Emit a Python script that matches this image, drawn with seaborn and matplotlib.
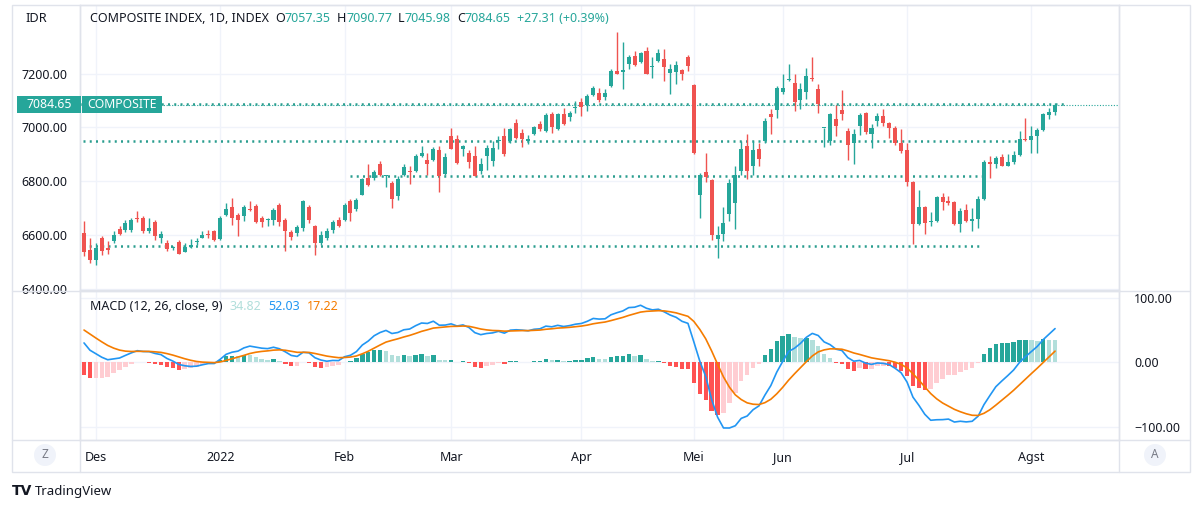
import numpy as np
import pandas as pd
import matplotlib
matplotlib.use("Agg")
import matplotlib.pyplot as plt
import seaborn as sns
from matplotlib.patches import Rectangle, Ellipse
from matplotlib.lines import Line2D

sns.set_theme(style="white")
plt.rcParams['font.family'] = ['Noto Sans', 'DejaVu Sans']

# ---------------- data ----------------
holidays = ["2021-12-24", "2021-12-31", "2022-02-01", "2022-02-28", "2022-03-03",
            "2022-04-15", "2022-04-29", "2022-05-02", "2022-05-03", "2022-05-04",
            "2022-05-05", "2022-05-06", "2022-05-16", "2022-05-26", "2022-06-01"]
first_day = "2021-11-29"
last_day = "2022-08-05"

opens = [6607, 6545, 6507, 6588, 6551, 6576, 6622, 6620, 6617, 6663,
         6663, 6613, 6648, 6588, 6570, 6553, 6573, 6537, 6555, 6572,
         6589, 6604, 6613, 6584, 6675, 6704, 6675, 6669, 6698, 6706,
         6663, 6656, 6657, 6712, 6654, 6611, 6607, 6626, 6703, 6632,
         6570, 6588, 6619, 6657, 6657, 6725, 6696, 6750, 6812, 6812,
         6862, 6818, 6793, 6746, 6822, 6837, 6837, 6895, 6880, 6877,
         6914, 6828, 6967, 6957, 6921, 6905, 6895, 6837, 6895, 6874,
         6950, 6967, 6949, 7017, 6980, 6949, 6974, 7011, 6986, 7048,
         6995, 7051, 7040, 7072, 7094, 7082, 7119, 7127, 7113, 7154,
         7210, 7204, 7237, 7266, 7243, 7284, 7226, 7247, 7253, 7201,
         7206, 7212, 7260, 7156, 6747, 6833, 6803, 6586, 6604, 6678,
         6719, 6839, 6930, 6858, 6918, 6949, 7051, 7064, 7130, 7176,
         7166, 7102, 7131, 7185, 7144, 6996, 6949, 7030, 7063, 6988,
         6943, 7005, 7052, 6977, 7023, 7044, 7015, 6996, 6943, 6914,
         6796, 6641, 6704, 6647, 6653, 6740, 6725, 6721, 6642, 6691,
         6650, 6659, 6735, 6872, 6862, 6889, 6858, 6870, 6897, 6958,
         6952, 6967, 6990, 7045, 7057.35]
highs = [6650, 6588, 6570, 6597, 6578, 6613, 6632, 6657, 6664, 6688,
         6669, 6663, 6657, 6613, 6580, 6557, 6582, 6570, 6585, 6588,
         6613, 6619, 6619, 6669, 6719, 6737, 6681, 6713, 6725, 6716,
         6672, 6663, 6700, 6719, 6663, 6619, 6638, 6731, 6713, 6638,
         6613, 6626, 6654, 6665, 6719, 6734, 6737, 6812, 6862, 6843,
         6874, 6824, 6800, 6818, 6862, 6855, 6899, 6930, 6905, 6927,
         6930, 6905, 6998, 6970, 6936, 6915, 6930, 6887, 6936, 6949,
         6967, 6996, 6998, 7032, 6992, 6970, 7005, 7023, 7055, 7057,
         7055, 7073, 7061, 7098, 7110, 7123, 7154, 7148, 7141, 7216,
         7353, 7318, 7268, 7284, 7281, 7297, 7260, 7293, 7291, 7237,
         7247, 7218, 7268, 7160, 6831, 6903, 6806, 6634, 6703, 6806,
         6855, 6949, 6974, 6949, 6942, 7036, 7069, 7154, 7197, 7235,
         7197, 7166, 7222, 7260, 7160, 6999, 7054, 7082, 7139, 6998,
         6995, 7055, 7057, 7011, 7055, 7069, 7020, 7005, 6992, 6943,
         6800, 6768, 6709, 6684, 6744, 6756, 6746, 6725, 6700, 6716,
         6700, 6744, 6880, 6893, 6893, 6899, 6899, 6912, 6986, 7036,
         7005, 6996, 7055, 7073, 7090.77]
lows = [6520, 6495, 6489, 6526, 6530, 6570, 6601, 6610, 6610, 6647,
        6607, 6607, 6582, 6570, 6539, 6545, 6530, 6535, 6551, 6563,
        6588, 6588, 6579, 6582, 6669, 6638, 6595, 6650, 6688, 6644,
        6629, 6632, 6638, 6632, 6539, 6582, 6594, 6613, 6644, 6526,
        6563, 6582, 6607, 6629, 6650, 6650, 6688, 6747, 6781, 6803,
        6818, 6778, 6700, 6729, 6818, 6791, 6835, 6890, 6824, 6874,
        6760, 6824, 6918, 6862, 6895, 6849, 6818, 6828, 6843, 6855,
        6918, 6895, 6943, 6955, 6928, 6937, 6970, 6986, 6982, 6980,
        6990, 7007, 7023, 7054, 7042, 7061, 7117, 7094, 7102, 7151,
        7197, 7144, 7216, 7228, 7241, 7197, 7185, 7243, 7172, 7125,
        7160, 7175, 7210, 6899, 6663, 6796, 6580, 6514, 6576, 6650,
        6622, 6824, 6806, 6824, 6858, 6940, 6977, 7036, 7123, 7172,
        7061, 7067, 7104, 7172, 7052, 6928, 6936, 6967, 7027, 6880,
        6862, 6970, 6974, 6924, 7005, 7005, 6961, 6936, 6905, 6781,
        6566, 6638, 6604, 6634, 6647, 6694, 6710, 6638, 6609, 6647,
        6613, 6626, 6731, 6812, 6849, 6855, 6855, 6865, 6893, 6949,
        6903, 6903, 6986, 7030, 7045.98]
closes = [6535, 6507, 6551, 6539, 6545, 6601, 6604, 6644, 6654, 6660,
          6613, 6626, 6595, 6602, 6547, 6555, 6530, 6555, 6561, 6576,
          6598, 6600, 6582, 6663, 6696, 6663, 6654, 6703, 6692, 6648,
          6647, 6657, 6694, 6647, 6613, 6592, 6629, 6727, 6654, 6570,
          6601, 6613, 6647, 6632, 6710, 6681, 6731, 6806, 6787, 6834,
          6822, 6820, 6735, 6808, 6852, 6833, 6893, 6903, 6862, 6921,
          6818, 6890, 6920, 6868, 6930, 6872, 6818, 6864, 6924, 6924,
          6952, 6899, 6992, 6961, 6955, 6955, 7001, 6995, 7047, 7001,
          7048, 7011, 7054, 7076, 7077, 7117, 7148, 7102, 7127, 7210,
          7200, 7214, 7263, 7232, 7276, 7200, 7227, 7276, 7226, 7216,
          7231, 7197, 7228, 6905, 6822, 6816, 6598, 6598, 6644, 6793,
          6824, 6918, 6839, 6914, 6883, 7023, 7038, 7148, 7148, 7181,
          7094, 7141, 7191, 7179, 7085, 6999, 7048, 7005, 7051, 6936,
          6976, 7045, 6982, 6998, 7044, 7015, 6996, 6943, 6912, 6796,
          6641, 6704, 6644, 6653, 6741, 6723, 6719, 6641, 6688, 6650,
          6659, 6735, 6872, 6862, 6887, 6858, 6872, 6897, 6957, 6952,
          6967, 6990, 7048, 7057.34, 7084.65]

# MACD state at the first candle
macd_start = 30.0
signal_start = 50.0
ema26_start = 6590.0
# indicator legend values shown in the pane header
macd_legend = [34.82, 52.03, 17.22]

# user-drawn horizontal lines (price level, from bar index, to bar index)
line_levels = [7086.0, 6951.0, 6818.0, 6557.0]
line_from = [-0.7, -0.1, 44.9, -0.1]
line_to = [165.7, 157.8, 152.2, 151.9]

month_labels = ["Des", "2022", "Feb", "Mar", "Apr", "Mei", "Jun", "Jul", "Agst"]
price_ticks = [6400, 6600, 6800, 7000, 7200]
macd_ticks = [-100, 0, 100]

# ---------------- derived ----------------
dates = pd.bdate_range(first_day, last_day)
dates = dates[~dates.isin(pd.to_datetime(holidays))]
df = pd.DataFrame({"date": dates, "open": opens, "high": highs, "low": lows, "close": closes})
df["i"] = np.arange(len(df))

a12, a26, a9 = 2 / 13, 2 / 27, 2 / 10
e12, e26 = ema26_start + macd_start, ema26_start
sig = signal_start
macd_v, sig_v = [], []
for k, c in enumerate(df["close"]):
    if k > 0:
        e12 = e12 + a12 * (c - e12)
        e26 = e26 + a26 * (c - e26)
        sig = sig + a9 * ((e12 - e26) - sig)
    macd_v.append(e12 - e26)
    sig_v.append(sig)
df["macd"] = macd_v
df["signal"] = sig_v
df["hist"] = df["macd"] - df["signal"]

month_start = df.groupby(df["date"].dt.to_period("M"))["i"].min().values[1:]

# ---------------- figure ----------------
W, H = 1200, 508
fig = plt.figure(figsize=(W / 100, H / 100), dpi=100)
fig.patch.set_facecolor("white")

def fr(x0, y0, x1, y1):
    return [x0 / W, 1 - y1 / H, (x1 - x0) / W, (y1 - y0) / H]

ax = fig.add_axes(fr(80, 5, 1119, 290))
axm = fig.add_axes(fr(80, 291, 1119, 440), sharex=ax)

UP, DN = "#26a69a", "#ef5350"
TXT = "#131722"
GRID = "#f0f3fa"
SEP = "#e0e3eb"

up = df["close"] >= df["open"]
cols = np.where(up, UP, DN)

for a in (ax, axm):
    a.set_facecolor("white")
    for s in a.spines.values():
        s.set_color(SEP)
        s.set_linewidth(1)
    for m in month_start:
        a.axvline(m, color=GRID, lw=1, zorder=0)

for p in price_ticks:
    ax.axhline(p, color=GRID, lw=1, zorder=0)
for p in macd_ticks:
    axm.axhline(p, color=GRID, lw=1, zorder=0)

# user lines
for lvl, x0, x1 in zip(line_levels, line_from, line_to):
    ax.plot([x0, x1], [lvl, lvl], color="#2a9d8f", lw=1.8,
            linestyle=(0, (0.8, 1.7)), zorder=1, solid_capstyle="butt")
ax.axhline(df["close"].iloc[-1], color="#26a69a", lw=0.8, linestyle=(0, (1, 1.5)), zorder=1)

# candles
ax.vlines(df["i"], df["low"], df["high"], colors=cols, lw=1, zorder=2)
body = np.maximum((df["close"] - df["open"]).abs(), 3.5)
ax.bar(df["i"], body, bottom=np.minimum(df["open"], df["close"]), width=0.68,
       color=cols, linewidth=0, zorder=3)

ax.set_xlim(-0.68, 174.8)
ax.set_ylim(6395, 7455)
ax.set_yticks(price_ticks)
ax.set_yticklabels([f"{p:.2f}" for p in price_ticks])
ax.tick_params(axis="y", length=0, pad=9, labelsize=9, colors=TXT)
ax.tick_params(axis="x", length=0, labelbottom=False)

# MACD pane
h = df["hist"].values
prev = np.r_[h[0], h[:-1]]
hcol = np.where(h >= 0, np.where(h > prev, "#26a69a", "#b2dfdb"),
                np.where(h > prev, "#ffcdd2", "#ff5252"))
axm.bar(df["i"], h, width=0.75, color=hcol, linewidth=0, zorder=2)
sns.lineplot(data=df, x="i", y="macd", ax=axm, color="#2196f3", lw=1.2, zorder=3)
sns.lineplot(data=df, x="i", y="signal", ax=axm, color="#f57c00", lw=1.2, zorder=3)
axm.set_ylim(-120.4, 110.5)
axm.set_ylabel("")
axm.set_xlabel("")
axm.yaxis.tick_right()
axm.set_yticks(macd_ticks)
axm.set_yticklabels(["\u2212100.00", "0.00", "100.00"])
axm.tick_params(axis="y", length=0, pad=11, labelsize=9, colors=TXT, left=False, labelleft=False)
axm.set_xticks(month_start)
axm.set_xticklabels(month_labels)
axm.tick_params(axis="x", length=0, pad=8, labelsize=9, colors=TXT)
ax.set_xlim(-0.68, 174.8)

# frame and separators
fig.add_artist(Rectangle((12 / W, 1 - 472 / H), (1190 - 12) / W, (472 - 5) / H,
                         transform=fig.transFigure, fill=False, edgecolor=SEP, lw=1))
for xx in (80, 1119):
    fig.add_artist(Line2D([xx / W, xx / W], [1 - 472 / H, 1 - 5 / H], color=SEP, lw=1))
fig.add_artist(Line2D([12 / W, 1190 / W], [1 - 290.5 / H] * 2, color=SEP, lw=1))
fig.add_artist(Line2D([12 / W, 1190 / W], [1 - 440 / H] * 2, color=SEP, lw=1))
for cx, t in ((45, "Z"), (1155, "A")):
    fig.add_artist(Ellipse((cx / W, 1 - 455 / H), 22 / W, 22 / H, transform=fig.transFigure,
                           facecolor="#f0f3fa", edgecolor="none"))
    fig.text(cx / W, 1 - 455 / H, t, ha="center", va="center", fontsize=8.5, color="#787b86")

# price label boxes
def box(x0, x1, y0, y1, txt):
    fig.add_artist(Rectangle((x0 / W, 1 - y1 / H), (x1 - x0) / W, (y1 - y0) / H,
                             transform=fig.transFigure, facecolor="#26a69a", edgecolor="none",
                             zorder=5))
    fig.text((x0 + x1) / 2 / W, 1 - (y0 + y1) / 2 / H, txt, ha="center", va="center",
             color="white", fontsize=8.8, fontweight="bold", zorder=6)

box(17, 81, 96, 113, f"{closes[-1]:.2f}")
box(82, 162, 96, 113, "COMPOSITE")

# header texts
renderer = fig.canvas.get_renderer()

def seq(x0, y, pieces, size):
    x = x0
    for txt, col, gap in pieces:
        t = fig.text(x / W, 1 - y / H, txt, color=col, fontsize=size, ha="left", va="center")
        x += t.get_window_extent(renderer=renderer).width + gap

fig.text(25 / W, 1 - 18 / H, "IDR", fontsize=9.2, color=TXT, ha="left", va="center")
o, hh, l, c = opens[-1], highs[-1], lows[-1], closes[-1]
chg = c - closes[-2]
seq(90, 19, [("COMPOSITE INDEX, 1D, INDEX", TXT, 6),
             ("O", TXT, 0), (f"{o:.2f}", UP, 6),
             ("H", TXT, 0), (f"{hh:.2f}", UP, 6),
             ("L", TXT, 0), (f"{l:.2f}", UP, 6),
             ("C", TXT, 0), (f"{c:.2f}", UP, 6),
             (f"+{chg:.2f} (+{chg / closes[-2] * 100:.2f}%)", UP, 0)], 9.0)
seq(90, 306, [("MACD (12, 26, close, 9)", TXT, 7),
              (f"{macd_legend[0]:.2f}", "#b2dfdb", 7),
              (f"{macd_legend[1]:.2f}", "#2196f3", 7),
              (f"{macd_legend[2]:.2f}", "#f57c00", 0)], 9.0)

# logo
fig.text(12 / W, 1 - 491 / H, "TV", fontsize=10, fontweight="heavy", color=TXT,
         ha="left", va="center", family="DejaVu Sans")
fig.text(35 / W, 1 - 492 / H, "TradingView", fontsize=9.5, color=TXT, ha="left", va="center")

fig.savefig("out.png", dpi=100, facecolor="white")
